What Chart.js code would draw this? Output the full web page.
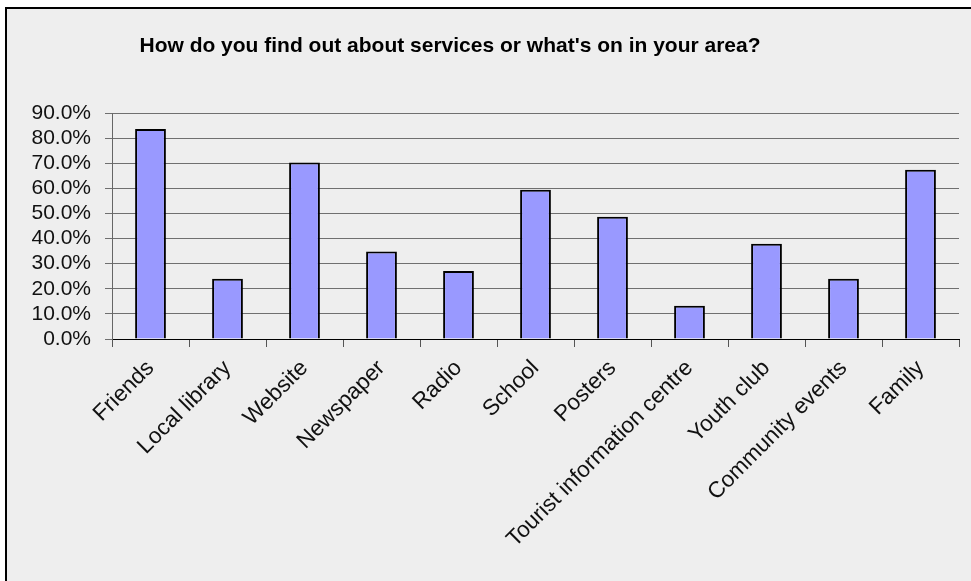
<!DOCTYPE html>
<html>
<head>
<meta charset="utf-8">
<script src="https://cdn.jsdelivr.net/npm/chart.js@4.4.1/dist/chart.umd.min.js"></script>
<style>
  body { margin: 0; background: #ffffff; overflow: hidden; }
  #box {
    position: absolute; left: 5px; top: 7px;
    width: 990px; height: 600px;
    border: 2px solid #000; background: #eeeeee;
  }
  #wrap { position: absolute; left: 0; top: 0; width: 964px; height: 572px; }
</style>
</head>
<body>
<div id="box">
  <div id="wrap"><canvas id="infoChart"></canvas></div>
</div>
<script>
// Data
var categories = ['Friends', 'Local library', 'Website', 'Newspaper', 'Radio', 'School',
                  'Posters', 'Tourist information centre', 'Youth club', 'Community events', 'Family'];
var percentValues = [83.6, 24.0, 70.3, 34.8, 27.1, 59.4, 48.7, 13.2, 37.9, 24.0, 67.4];
var yMax = 90;
var yStep = 10;
var titleText = "How do you find out about services or what's on in your area?";

// Title is drawn off-centre like the original, so a small plugin draws it
var titlePlugin = {
  id: 'offsetTitle',
  afterDraw: function (chart) {
    var c = chart.ctx;
    c.save();
    c.font = 'bold 21px "Liberation Sans", Arial, sans-serif';
    c.fillStyle = '#000';
    c.textAlign = 'center';
    c.textBaseline = 'middle';
    c.fillText(titleText, 443, 37);
    c.restore();
  }
};

var ctx = document.getElementById('infoChart').getContext('2d');
var chart = new Chart(ctx, {
  type: 'bar',
  data: {
    labels: categories,
    datasets: [{
      data: percentValues,
      backgroundColor: '#9999ff',
      borderColor: '#000000',
      borderWidth: 2,
      barPercentage: 0.4,
      categoryPercentage: 1.0
    }]
  },
  options: {
    responsive: true,
    maintainAspectRatio: false,
    animation: false,
    layout: {
      padding: { left: 0, right: 12, top: 104, bottom: 0 }
    },
    plugins: {
      legend: { display: false },
      tooltip: { enabled: false }
    },
    scales: {
      x: {
        offset: true,
        afterFit: function (scale) { scale.height = 242; },
        grid: {
          drawOnChartArea: false,
          drawTicks: true,
          tickLength: 8,
          color: '#555555'
        },
        border: { color: '#000000', width: 1 },
        ticks: {
          minRotation: 45,
          maxRotation: 45,
          autoSkip: false,
          padding: 8,
          color: '#111111',
          font: { family: '"Liberation Sans", Arial, sans-serif', size: 22.5 }
        }
      },
      y: {
        min: 0,
        max: yMax,
        afterFit: function (scale) { scale.width = 105; },
        grid: {
          color: '#6f6f6f',
          lineWidth: 1,
          tickLength: 7
        },
        border: { color: '#666666', width: 1 },
        ticks: {
          stepSize: yStep,
          autoSkip: false,
          padding: 14,
          color: '#111111',
          font: { family: '"Liberation Sans", Arial, sans-serif', size: 21 },
          callback: function (value) { return value.toFixed(1) + '%'; }
        }
      }
    }
  },
  plugins: [titlePlugin]
});
</script>
</body>
</html>
